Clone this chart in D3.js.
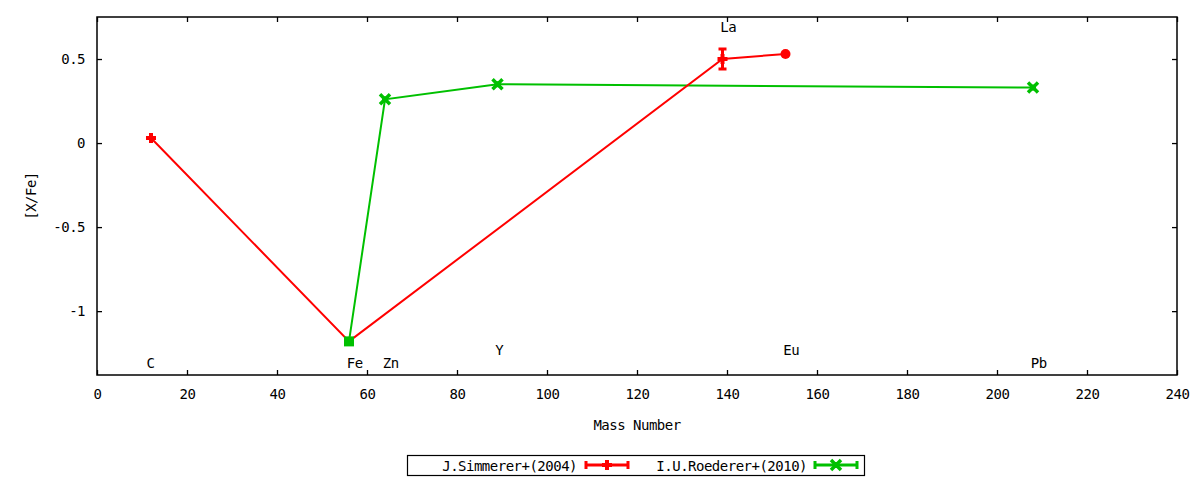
<!DOCTYPE html>
<html>
<head>
<meta charset="utf-8">
<script src="https://cdn.jsdelivr.net/npm/d3@7"></script>
<style>
  body { margin: 0; background: #fff; }
  svg text { font-family: "DejaVu Sans Mono", monospace; font-size: 14px; letter-spacing: -0.5px; fill: #000; }
</style>
</head>
<body>
<svg id="chart" width="1200" height="480"></svg>
<script>
// Simmerer+(2004)
const simMass = [12, 56, 139, 153];
const simValue = [0.03, -1.18, 0.50, 0.53];
const simErr = [0, 0, 0.06, 0];

// Roederer+(2010)
const roeMass = [56, 64, 89, 208];
const roeValue = [-1.18, 0.26, 0.35, 0.33];

// element labels
const elemNames = ["C", "Fe", "Zn", "Y", "La", "Eu", "Pb"];
const elemLabelX = [11, 55.5, 63.5, 88.5, 138.5, 152.5, 207.5];
const elemLabelY = [-1.31, -1.31, -1.31, -1.23, 0.69, -1.23, -1.31];

const xTicks = [0, 20, 40, 60, 80, 100, 120, 140, 160, 180, 200, 220, 240];
const yTicks = [0.5, 0, -0.5, -1];

const margin = { top: 17, right: 23, bottom: 105, left: 97 };
const width = 1200 - margin.left - margin.right;
const height = 480 - margin.top - margin.bottom;

const svg = d3.select("#chart");
const g = svg.append("g")
  .attr("transform", "translate(" + margin.left + "," + margin.top + ")");

const x = d3.scaleLinear().domain([0, 240]).range([0, width]);
const y = d3.scaleLinear().domain([-1.38, 0.75]).range([height, 0]);

// axes, ticks inside like gnuplot
g.append("g")
  .attr("transform", "translate(0," + height + ")")
  .call(d3.axisBottom(x).tickValues(xTicks).tickSizeInner(-5).tickSizeOuter(0).tickPadding(14))
  .call(a => a.select(".domain").remove());
g.append("g")
  .call(d3.axisTop(x).tickValues(xTicks).tickSizeInner(-5).tickSizeOuter(0).tickFormat(""))
  .call(a => a.select(".domain").remove());
g.append("g")
  .call(d3.axisLeft(y).tickValues(yTicks).tickSizeInner(-5).tickSizeOuter(0).tickPadding(12).tickFormat(d => String(d)))
  .call(a => a.select(".domain").remove());
g.append("g")
  .attr("transform", "translate(" + width + ",0)")
  .call(d3.axisRight(y).tickValues(yTicks).tickSizeInner(-5).tickSizeOuter(0).tickFormat(""))
  .call(a => a.select(".domain").remove());
g.selectAll(".tick line").attr("stroke", "#000").attr("stroke-width", 1.3);
g.selectAll(".tick text").style("font-size", "14px");

g.append("rect")
  .attr("width", width).attr("height", height)
  .attr("fill", "none").attr("stroke", "#000").attr("stroke-width", 1.5);

// axis titles
svg.append("text")
  .attr("x", margin.left + width / 2).attr("y", 430)
  .attr("text-anchor", "middle").text("Mass Number");
svg.append("text")
  .attr("transform", "translate(36,196) rotate(-90)")
  .attr("text-anchor", "middle").text("[X/Fe]");

// element labels
g.selectAll(".elem")
  .data(elemNames)
  .join("text")
  .attr("class", "elem")
  .attr("x", (d, i) => x(elemLabelX[i]))
  .attr("y", (d, i) => y(elemLabelY[i]))
  .attr("dy", "0.35em")
  .text(d => d);

const line = d3.line().x(d => x(d[0])).y(d => y(d[1]));
const red = "#ff0000";
const green = "#00c000";

const sim = simMass.map((m, i) => [m, simValue[i], simErr[i]]);
const roe = roeMass.map((m, i) => [m, roeValue[i]]);

// green series
g.append("path").datum(roe)
  .attr("fill", "none").attr("stroke", green).attr("stroke-width", 2)
  .attr("d", line);

// red series
g.append("path").datum(sim)
  .attr("fill", "none").attr("stroke", red).attr("stroke-width", 2)
  .attr("d", line);

// markers
function plus(sel, cx, cy, col) {
  sel.append("path")
    .attr("d", `M${cx - 5},${cy}H${cx + 5}M${cx},${cy - 5}V${cy + 5}`)
    .attr("stroke", col).attr("stroke-width", 4);
}
function cross(sel, cx, cy, col) {
  sel.append("path")
    .attr("d", `M${cx - 5},${cy - 5}L${cx + 5},${cy + 5}M${cx - 5},${cy + 5}L${cx + 5},${cy - 5}`)
    .attr("stroke", col).attr("stroke-width", 3.5);
  sel.append("rect")
    .attr("x", cx - 3).attr("y", cy - 3).attr("width", 6).attr("height", 6)
    .attr("fill", col);
}
function errbar(sel, cx, cy1, cy2, col) {
  sel.append("path")
    .attr("d", `M${cx},${cy1}V${cy2}M${cx - 4},${cy1}H${cx + 4}M${cx - 4},${cy2}H${cx + 4}`)
    .attr("stroke", col).attr("stroke-width", 3);
}

const mk = g.append("g");
roe.forEach((d, i) => {
  if (i === 0) {
    mk.append("rect")
      .attr("x", x(d[0]) - 5).attr("y", y(d[1]) - 5)
      .attr("width", 10).attr("height", 10).attr("fill", green);
  } else {
    cross(mk, x(d[0]), y(d[1]), green);
  }
});
sim.forEach((d, i) => {
  if (d[2] > 0) errbar(mk, x(d[0]), y(d[1] + d[2]), y(d[1] - d[2]), red);
  if (i === sim.length - 1) {
    mk.append("circle").attr("cx", x(d[0])).attr("cy", y(d[1])).attr("r", 5).attr("fill", red);
  } else if (i !== 1) {
    plus(mk, x(d[0]), y(d[1]), red);
  }
});

// legend
const leg = svg.append("g");
leg.append("rect")
  .attr("x", 407.5).attr("y", 455.5).attr("width", 457).attr("height", 20)
  .attr("fill", "#fff").attr("stroke", "#000").attr("stroke-width", 1.2);
const legItems = [
  { name: "J.Simmerer+(2004)", col: red, tx: 577, lx: 586, mark: plus },
  { name: "I.U.Roederer+(2010)", col: green, tx: 807, lx: 815, mark: cross }
];
legItems.forEach(it => {
  leg.append("text").attr("x", it.tx).attr("y", 466).attr("dy", "0.35em")
    .attr("text-anchor", "end").text(it.name);
  leg.append("path")
    .attr("d", `M${it.lx},465H${it.lx + 42}M${it.lx},461V469M${it.lx + 42},461V469`)
    .attr("stroke", it.col).attr("stroke-width", 3);
  it.mark(leg, it.lx + 21, 465, it.col);
});
</script>
</body>
</html>
